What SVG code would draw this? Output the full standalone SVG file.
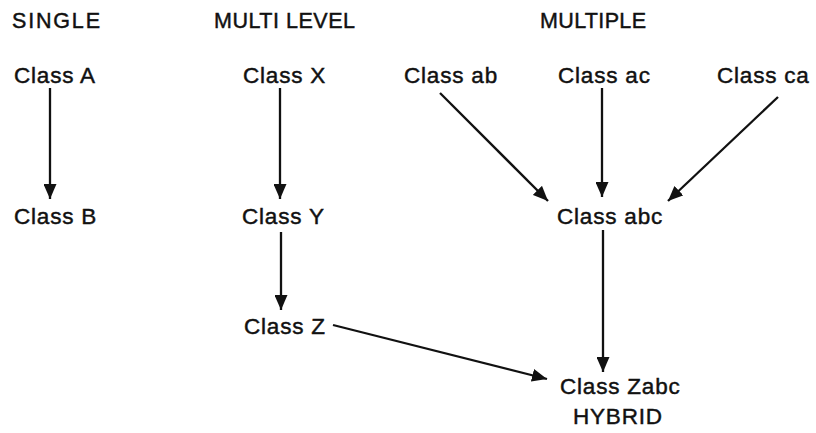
<svg xmlns="http://www.w3.org/2000/svg" width="816" height="433" viewBox="0 0 816 433">
  <style>
    text { font-family: "Liberation Sans", Arial, sans-serif; font-size: 22.5px; fill: #111; stroke: #111; stroke-width: 0.45px; letter-spacing: 0.8px; }
    .head { font-size: 21.5px; letter-spacing: 0; }
    .edge { stroke: #111; stroke-width: 2.3; fill: none; marker-end: url(#arrow); }
  </style>
  <defs>
    <marker id="arrow" markerWidth="15" markerHeight="13" refX="15" refY="6.5" orient="auto" markerUnits="userSpaceOnUse" viewBox="0 0 15 13">
      <path d="M0,0 L15,6.5 L0,13 Z" fill="#111"/>
    </marker>
  </defs>
  <rect width="816" height="433" fill="#fff"/>

  <!-- section headings -->
  <g id="headings">
    <text class="head" x="12" y="28" textLength="88" lengthAdjust="spacing">SINGLE</text>
    <text class="head" x="214" y="28" textLength="141" lengthAdjust="spacing">MULTI LEVEL</text>
    <text class="head" x="540" y="28" textLength="106" lengthAdjust="spacing">MULTIPLE</text>
  </g>

  <!-- single inheritance -->
  <g id="classA"><text x="14" y="83">Class A</text></g>
  <g id="classB"><text x="14" y="224">Class B</text></g>

  <!-- multilevel inheritance -->
  <g id="classX"><text x="243" y="83">Class X</text></g>
  <g id="classY"><text x="242" y="224">Class Y</text></g>
  <g id="classZ"><text x="244" y="334">Class Z</text></g>

  <!-- multiple inheritance -->
  <g id="classAb"><text x="404" y="83">Class ab</text></g>
  <g id="classAc"><text x="558" y="83">Class ac</text></g>
  <g id="classCa"><text x="717" y="83">Class ca</text></g>
  <g id="classAbc"><text x="557" y="224">Class abc</text></g>

  <!-- hybrid inheritance -->
  <g id="classZabc">
    <text x="560" y="394">Class Zabc</text>
    <text x="573" y="424">HYBRID</text>
  </g>

  <g id="connectors">
    <line class="edge" x1="50" y1="88" x2="50" y2="199"/>
    <line class="edge" x1="280" y1="88" x2="280" y2="199"/>
    <line class="edge" x1="281" y1="232" x2="281" y2="310"/>
    <line class="edge" x1="440" y1="93" x2="548" y2="201"/>
    <line class="edge" x1="602" y1="88" x2="602" y2="197"/>
    <line class="edge" x1="778" y1="97" x2="668" y2="201"/>
    <line class="edge" x1="603" y1="230" x2="603" y2="372"/>
    <line class="edge" x1="333" y1="325" x2="547" y2="379"/>
  </g>
</svg>
